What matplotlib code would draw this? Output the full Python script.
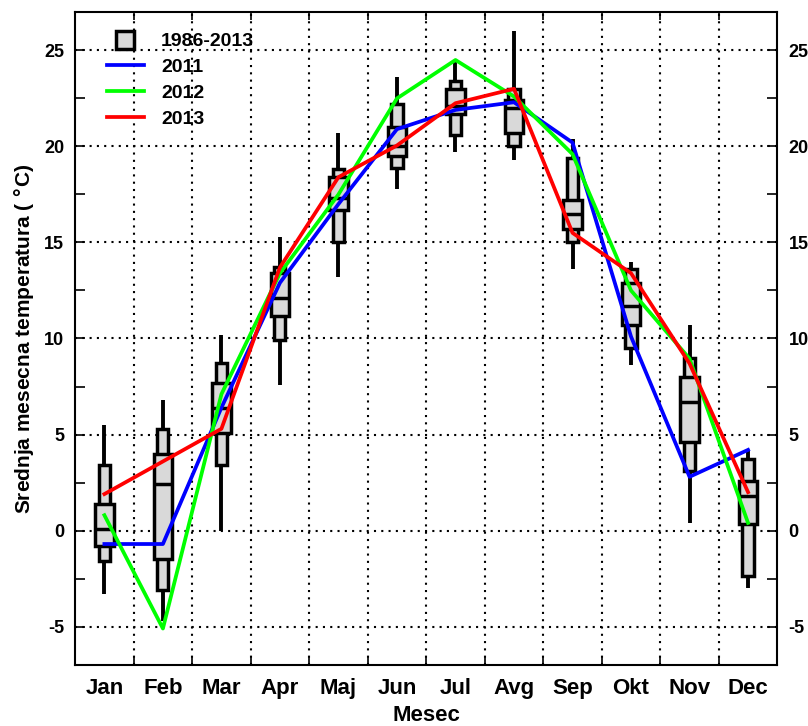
import numpy as np
import matplotlib
matplotlib.use("Agg")
from matplotlib import pyplot as plt
from matplotlib.lines import Line2D

plt.rcParams['font.family'] = ['Liberation Sans', 'DejaVu Sans']
plt.rcParams['font.weight'] = 'bold'
plt.rcParams['axes.unicode_minus'] = False

meseci = ['Jan', 'Feb', 'Mar', 'Apr', 'Maj', 'Jun', 'Jul', 'Avg', 'Sep', 'Okt', 'Nov', 'Dec']

# 1986-2013 statistika: min, p10, p25, medijana, p75, p90, max
t_min = [-3.3, -4.7, 0.0, 7.6, 13.2, 17.8, 19.7, 19.3, 13.6, 8.6, 0.4, -3.0]
t_p10 = [-1.6, -3.1, 3.4, 9.9, 15.0, 18.9, 20.6, 20.0, 15.0, 9.5, 3.1, -2.35]
t_p25 = [-0.8, -1.5, 5.1, 11.15, 16.7, 19.5, 21.7, 20.7, 15.7, 10.7, 4.6, 0.35]
t_med = [0.1, 2.4, 6.4, 12.1, 17.3, 20.0, 22.1, 22.0, 16.5, 11.7, 6.7, 1.8]
t_p75 = [1.4, 4.0, 7.7, 13.4, 18.4, 21.0, 23.0, 22.4, 17.2, 12.9, 8.0, 2.6]
t_p90 = [3.4, 5.3, 8.75, 13.7, 18.85, 22.2, 23.4, 23.0, 19.4, 13.6, 9.0, 3.75]
t_max = [5.5, 6.8, 10.2, 15.3, 20.7, 23.6, 24.4, 26.0, 20.4, 14.0, 10.7, 4.2]

god_2011 = [-0.7, -0.7, 6.4, 12.9, 17.0, 20.9, 21.9, 22.3, 20.2, 10.1, 2.8, 4.2]
god_2012 = [0.8, -5.1, 7.1, 13.4, 17.5, 22.5, 24.5, 22.6, 19.6, 12.5, 8.95, 0.4]
god_2013 = [1.9, 3.6, 5.3, 13.7, 18.4, 20.05, 22.25, 23.0, 15.5, 13.4, 8.7, 2.0]

x = np.arange(1, 13)
siva = '#d9d9d9'

fig = plt.figure(figsize=(8.08, 7.26), dpi=100)
ax = fig.add_axes([0.093, 0.084, 0.869, 0.8995])

# box plotovi
ax.vlines(x, t_min, t_max, color='black', lw=2.8, zorder=2)
t_p10 = np.array(t_p10); t_p90 = np.array(t_p90)
t_p25 = np.array(t_p25); t_p75 = np.array(t_p75)
ax.bar(x, t_p90 - t_p10, bottom=t_p10, width=0.19, color=siva, edgecolor='black', linewidth=2.5, zorder=3)
ax.bar(x, t_p75 - t_p25, bottom=t_p25, width=0.32, color=siva, edgecolor='black', linewidth=2.5, zorder=4)
ax.hlines(t_med, x - 0.16, x + 0.16, color='black', lw=2.5, zorder=5)

# godine
ax.plot(x, god_2011, color='#0000ff', lw=2.7, zorder=6)
ax.plot(x, god_2012, color='#00ff00', lw=2.7, zorder=7)
ax.plot(x, god_2013, color='#ff0000', lw=2.7, zorder=8)

ax.set_xlim(0.5, 12.5)
ax.set_ylim(-7, 27)

ax.set_xticks(x)
ax.set_xticklabels(meseci, fontsize=16, fontweight='bold')
ax.set_xticks(np.arange(1.5, 12.5, 1), minor=True)
ax.tick_params(axis='x', which='major', length=0, pad=9)
ax.tick_params(axis='x', which='minor', direction='in', length=6, width=1.2, top=True, bottom=True)

ax.set_yticks(np.arange(-5, 26, 5))
ax.set_yticks(np.arange(-2.5, 26, 5), minor=True)
ax.tick_params(axis='y', which='major', direction='in', length=7, width=1.2,
               left=True, right=True, labelleft=True, labelright=True, labelsize=13, pad=8)
ax.tick_params(axis='y', which='minor', direction='in', length=7, width=1.2, left=True, right=True)
for lbl in ax.get_yticklabels():
    lbl.set_fontweight('bold')

ax.grid(True, axis='x', which='minor', linestyle=(0, (1, 2.5)), color='black', lw=1.5)
ax.grid(True, axis='y', which='major', linestyle=(0, (1, 2.5)), color='black', lw=1.5)
ax.set_axisbelow(True)

for sp in ax.spines.values():
    sp.set_linewidth(1.5)

ax.set_xlabel('Mesec', fontsize=16, fontweight='bold', labelpad=5)
ax.set_ylabel('Srednja mesecna temperatura ( $\\degree$C)', fontsize=15, fontweight='bold', labelpad=6)

handles = [
    Line2D([], [], marker='s', linestyle='none', markersize=12.5, markerfacecolor=siva,
           markeredgecolor='black', markeredgewidth=2.5),
    Line2D([], [], color='#0000ff', lw=2.7),
    Line2D([], [], color='#00ff00', lw=2.7),
    Line2D([], [], color='#ff0000', lw=2.7),
]
ax.legend(handles, ['1986-2013', '2011', '2012', '2013'], loc='upper left',
          bbox_to_anchor=(0.02, 0.995), frameon=False,
          handlelength=1.9, handletextpad=0.9, labelspacing=0.42,
          prop={'weight': 'bold', 'size': 14})

fig.savefig('out.png', dpi=100)
